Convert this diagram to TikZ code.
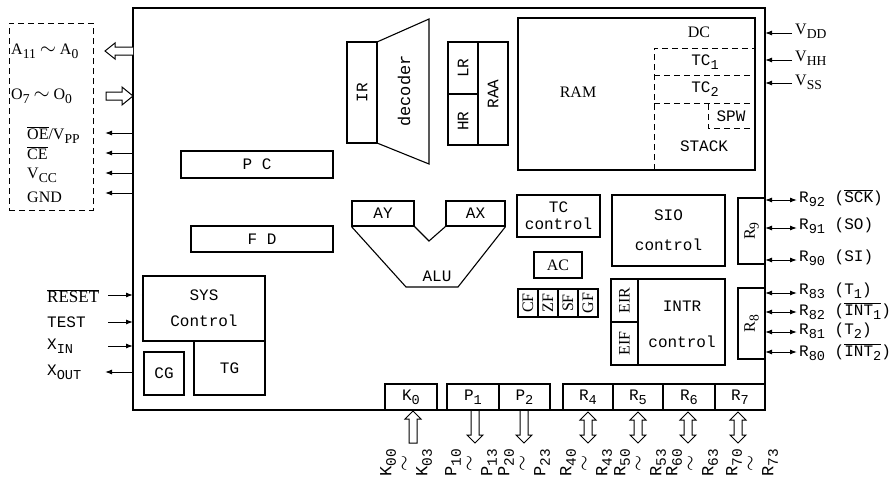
\documentclass[tikz,border=0pt]{standalone}
\usepackage{fontspec}
\setmainfont{Liberation Serif}
\setmonofont{Liberation Mono}
\usetikzlibrary{arrows.meta}
\newcommand\myrm{\fontsize{16}{19}\selectfont\rmfamily}
\newcommand\mytt{\fontsize{16}{20}\selectfont\ttfamily}
\newcommand\mybt{\fontsize{17}{18}\selectfont\ttfamily}
\newcommand\lo[1]{\raisebox{-0.5ex}{\scalebox{0.85}{#1}}}
\newcommand\ovl[1]{$\overline{\hbox{#1}}$}
\newcommand\wig{{\fontsize{22}{18}\selectfont$\sim$}}
\newcommand\bwig{{\fontsize{20}{18}\selectfont$\sim$}}
\tikzset{
  blk/.style={draw, line width=1.1pt, inner sep=0pt, align=center, font=\mytt},
  lin/.style={line width=1.1pt},
  dsh/.style={line width=1pt, dash pattern=on 6pt off 4pt},
  hol/.style={line width=1pt, fill=white},
  pinout/.style={line width=1pt, -{Latex[length=7pt,width=5pt]}},
  pinboth/.style={line width=1pt, {Latex[length=7pt,width=5pt]}-{Latex[length=7pt,width=5pt]}},
  lab/.style={font=\myrm, inner sep=0pt, anchor=west},
  labt/.style={font=\mytt, inner sep=0pt, anchor=west},
  rot/.style={rotate=90, inner sep=0pt, font=\mytt},
  btl/.style={rotate=90, inner sep=0pt, font=\mybt, align=center},
}
\newcommand\bx[7][]{\node[blk,#1,minimum width={(#5-#3)*1pt},minimum height={(#6-#4)*1pt}] (#2) at ({(#3+#5)/2},{(#4+#6)/2}) {#7};}
\newcommand\hup[3]{\draw[hol] (#1-4,#3) -- (#1-4,#2+8) -- (#1-8,#2+8) -- (#1,#2) -- (#1+8,#2+8) -- (#1+4,#2+8) -- (#1+4,#3) -- cycle;}
\newcommand\hdown[3]{\draw[hol] (#1-4,#2) -- (#1-4,#3-8) -- (#1-8,#3-8) -- (#1,#3) -- (#1+8,#3-8) -- (#1+4,#3-8) -- (#1+4,#2);}
\newcommand\hboth[3]{\draw[hol] (#1,#2) -- (#1+8,#2+8) -- (#1+4,#2+8) -- (#1+4,#3-8) -- (#1+8,#3-8) -- (#1,#3) -- (#1-8,#3-8) -- (#1-4,#3-8) -- (#1-4,#2+8) -- (#1-8,#2+8) -- cycle;}
\begin{document}
\begin{tikzpicture}[x=1pt,y=-1pt]
\useasboundingbox (0,0) rectangle (891,482);
% chip
\bx[line width=1.4pt]{chip}{133}{8}{765}{410}{}
% left dashed pin box
\bx[dsh]{pinbox}{9}{23}{93}{210}{}
% hollow arrows left
\draw[hol] (133,47) -- (115,47) -- (115,43) -- (105,51) -- (115,59) -- (115,55) -- (133,55);
\draw[hol] (106,92) -- (122,92) -- (122,87) -- (133,96) -- (122,105) -- (122,100) -- (106,100) -- cycle;
\node[lab] (la) at (11,51) {A\lo{11} \wig\ A\lo{0}};
\node[lab] (lo) at (11,96) {O\lo{7} \wig\ O\lo{0}};
% small pins left
\coordinate (p1) at (105,133); \coordinate (p2) at (105,153);
\coordinate (p3) at (105,173); \coordinate (p4) at (105,193);
\draw[pinout] (133,133) -- (p1);
\draw[pinout] (133,153) -- (p2);
\draw[pinout] (133,173) -- (p3);
\draw[pinout] (133,193) -- (p4);
\node[lab] (loe) at (27,135) {\ovl{OE}/V\lo{PP}};
\node[lab] (lce) at (27,153) {\ovl{CE}};
\node[lab] (lvcc) at (27,175) {V\lo{CC}};
\node[lab] (lgnd) at (27,197) {GND};
% lower left pins
\coordinate (q1) at (108,295); \coordinate (q2) at (108,322);
\coordinate (q3) at (108,346); \coordinate (q4) at (105,372);
\draw[pinout] (q1) -- (133,295);
\draw[pinout] (q2) -- (133,322);
\draw[pinout] (q3) -- (133,346);
\draw[pinout] (133,372) -- (q4);
\node[lab, font=\fontsize{17}{20}\selectfont] (lres) at (47,296) {\ovl{RESET}};
\node[labt] (ltest) at (47,322) {TEST};
\node[labt] (lxin) at (47,346) {X\lo{IN}};
\node[labt] (lxout) at (47,372) {X\lo{OUT}};
% right power pins
\coordinate (v1) at (792,33); \coordinate (v2) at (792,60); \coordinate (v3) at (792,83);
\draw[pinout] (v1) -- (765,33);
\draw[pinout] (v2) -- (765,60);
\draw[pinout] (v3) -- (765,83);
\node[lab] (lvdd) at (795,31) {V\lo{DD}};
\node[lab] (lvhh) at (795,58) {V\lo{HH}};
\node[lab] (lvss) at (795,82) {V\lo{SS}};
% right R pins
\foreach \yy/\nm in {200/r92,228/r91,260/r90,293/r83,312/r82,332/r81,352/r80}{
  \coordinate (\nm) at (797,\yy);
  \draw[pinboth] (765,\yy) -- (\nm);
}
\node[labt] (l92) at (799,198) {R\lo{92} (\ovl{SCK})};
\node[labt] (l91) at (799,226) {R\lo{91} (SO)};
\node[labt] (l90) at (799,258) {R\lo{90} (SI)};
\node[labt] (l83) at (799,291) {R\lo{83} (T\lo{1})};
\node[labt] (l82) at (799,311) {R\lo{82} (\ovl{INT\lo{1}})};
\node[labt] (l81) at (799,331) {R\lo{81} (T\lo{2})};
\node[labt] (l80) at (799,352) {R\lo{80} (\ovl{INT\lo{2}})};
% IR + decoder
\bx{ir}{347}{42}{377}{143}{}
\node[rot] (irt) at (ir) {IR};
\draw[lin] (377,42) -- (429,19) -- (429,164) -- (377,143);
\node[rot, font=\fontsize{17}{20}\selectfont\ttfamily] (dec) at (404,91) {decoder};
% LR HR RAA
\bx{raa}{448}{42}{508}{145}{}
\draw[lin] (478,42) -- (478,145);
\draw[lin] (448,94) -- (478,94);
\node[rot] (lr) at (463,68) {LR};
\node[rot] (hr) at (463,121) {HR};
\node[rot] (raat) at (493,94) {RAA};
% PC, FD
\bx{pc}{181}{151}{333}{178}{P C}
\bx{fd}{191}{226}{333}{252}{F D}
% RAM
\bx{ram}{518}{18}{755}{170}{}
\draw[dsh] (654,170) -- (654,48) -- (755,48);
\draw[dsh] (654,75) -- (755,75);
\draw[dsh] (654,103) -- (755,103);
\draw[dsh] (708,104) -- (708,128) -- (755,128);
\node[font=\myrm, inner sep=0pt] (ramt) at (578,92) {RAM};
\node[font=\myrm, inner sep=0pt] (dct) at (699,32) {DC};
\node[font=\mytt, inner sep=0pt] (tc1) at (705,62) {TC\lo{1}};
\node[font=\mytt, inner sep=0pt] (tc2) at (705,89) {TC\lo{2}};
\node[font=\mytt, inner sep=0pt] (spw) at (731,116) {SPW};
\node[font=\mytt, inner sep=0pt] (stk) at (704,146) {STACK};
% AY AX ALU
\bx{ay}{352}{201}{414}{226}{AY}
\bx{ax}{446}{201}{505}{226}{AX}
\draw[lin] (ay.south west) -- (406,287) -- (458,287) -- (ax.south east);
\draw[lin] (ay.south east) -- (429,241) -- (ax.south west);
\node[font=\mytt, inner sep=0pt] (alu) at (437,276) {ALU};
% SYS
\bx[font=\fontsize{16}{26}\selectfont\ttfamily]{sys}{143}{276}{265}{341}{SYS\\Control}
\bx{cg}{144}{352}{184}{395}{CG}
\bx{tg}{194}{341}{265}{395}{TG}
% TC control, SIO, AC
\bx[font=\fontsize{16}{17}\selectfont\ttfamily]{tcc}{517}{195}{600}{237}{TC\\control}
\bx[font=\fontsize{16}{30}\selectfont\ttfamily]{sio}{612}{195}{725}{266}{SIO\\control}
\bx[font=\myrm]{ac}{534}{252}{582}{278}{AC}
% flags
\bx{cf}{518}{289}{538}{317}{}
\bx{zf}{538}{289}{558}{317}{}
\bx{sf}{558}{289}{578}{317}{}
\bx{gf}{578}{289}{598}{317}{}
\node[rot, font=\myrm] (cft) at (cf) {CF};
\node[rot, font=\myrm] (zft) at (zf) {ZF};
\node[rot, font=\myrm] (sft) at (sf) {SF};
\node[rot, font=\myrm] (gft) at (gf) {GF};
% INTR
\bx{intr}{611}{279}{725}{365}{}
\bx{eir}{611}{279}{638}{322}{}
\bx{eif}{611}{322}{638}{365}{}
\node[rot, font=\myrm] (eirt) at (eir) {EIR};
\node[rot, font=\myrm] (eift) at (eif) {EIF};
\node[font=\fontsize{16}{36}\selectfont\ttfamily, align=center, inner sep=0pt] (intrt) at (682,324) {INTR\\control};
% R9 R8
\bx{r9}{738}{198}{765}{264}{}
\bx{r8}{738}{288}{765}{359}{}
\node[rot, font=\myrm] (r9t) at (r9) {R\lo{9}};
\node[rot, font=\myrm] (r8t) at (r8) {R\lo{8}};
% ports
\bx{k0}{385}{384}{437}{410}{K\lo{0}}
\bx{p1}{447}{384}{499}{410}{P\lo{1}}
\bx{p2}{499}{384}{550}{410}{P\lo{2}}
\bx{r4}{563}{384}{613}{410}{R\lo{4}}
\bx{r5}{613}{384}{663}{410}{R\lo{5}}
\bx{r6}{663}{384}{715}{410}{R\lo{6}}
\bx{r7}{715}{384}{765}{410}{R\lo{7}}
% port arrows
\hup{413}{411}{443}
\hdown{475}{411}{443}
\hdown{524}{411}{443}
\hboth{588}{412}{443}
\hboth{638}{412}{443}
\hboth{688}{412}{443}
\hboth{738}{412}{443}
% port labels
\node[btl] (bk) at (406,463) {K\lo{00}\\\bwig\\K\lo{03}};
\node[btl] (bp1) at (471,463) {P\lo{10}\\\bwig\\P\lo{13}};
\node[btl] (bp2) at (524,463) {P\lo{20}\\\bwig\\P\lo{23}};
\node[btl] (br4) at (586,463) {R\lo{40}\\\bwig\\R\lo{43}};
\node[btl] (br5) at (640,463) {R\lo{50}\\\bwig\\R\lo{53}};
\node[btl] (br6) at (692,463) {R\lo{60}\\\bwig\\R\lo{63}};
\node[btl] (br7) at (752,463) {R\lo{70}\\\bwig\\R\lo{73}};
\end{tikzpicture}
\end{document}
